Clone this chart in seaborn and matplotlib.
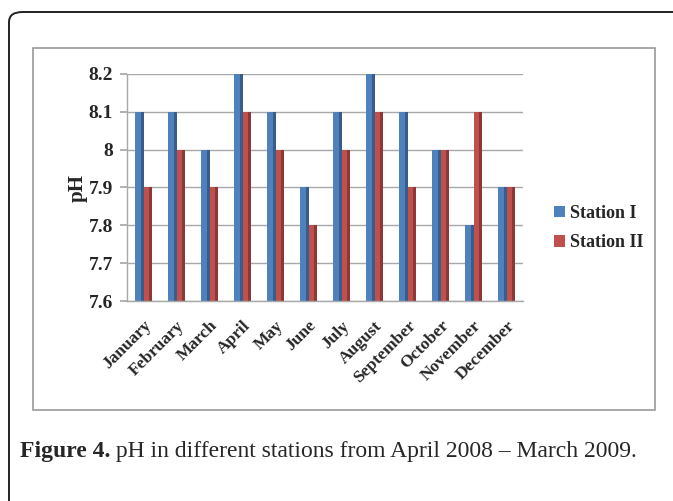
import pandas as pd
import numpy as np
import matplotlib
matplotlib.use("Agg")
import matplotlib.pyplot as plt
import seaborn as sns
from matplotlib.patches import FancyBboxPatch, Rectangle
from matplotlib.ticker import FuncFormatter

# ── DATA ──────────────────────────────────────────────────
months = ["January", "February", "March", "April", "May", "June",
          "July", "August", "September", "October", "November", "December"]
station_1 = [8.1, 8.1, 8.0, 8.2, 8.1, 7.9, 8.1, 8.2, 8.1, 8.0, 7.8, 7.9]
station_2 = [7.9, 8.0, 7.9, 8.1, 8.0, 7.8, 8.0, 8.1, 7.9, 8.0, 8.1, 7.9]
stations = ["Station I", "Station II"]
colors = ["#4F81BD", "#C0504D"]
side_colors = ["#385D8A", "#8C3836"]
caption_bold = "Figure 4."
caption_rest = " pH in different stations from April 2008 \u2013 March 2009."

df = pd.DataFrame({
    "month": months * 2,
    "ph": station_1 + station_2,
    "station": [stations[0]] * len(months) + [stations[1]] * len(months),
})

# ── STYLE ─────────────────────────────────────────────────
sns.set_theme(style="white")
plt.rcParams["font.family"] = ["Liberation Serif", "DejaVu Serif"]

W, H = 673, 501
fig = plt.figure(figsize=(W / 100, H / 100), dpi=100)
fig.patch.set_facecolor("white")

# outer frame (rounded corner, runs off the right and bottom edges)
fig.patches.append(FancyBboxPatch((9 / W, -0.05), 1.2, 1 - 12 / H + 0.05,
                                  boxstyle="round,pad=0,rounding_size=0.02",
                                  transform=fig.transFigure, fill=False,
                                  edgecolor="#222222", linewidth=1.4))
# inner chart box
fig.patches.append(Rectangle((33 / W, 1 - 410 / H), (655 - 33) / W, (410 - 48) / H,
                             transform=fig.transFigure, fill=False,
                             edgecolor="#9a9a9a", linewidth=1.2))

ax = fig.add_axes([127 / W, 1 - 301 / H, (523 - 127) / W, (301 - 74) / H])
ax.set_facecolor("none")

sns.barplot(data=df, x="month", y="ph", hue="station", palette=colors,
            width=0.5, gap=0, ax=ax, saturation=1, edgecolor="none")

# fake 3D side faces, taken from the bar geometry
for container, sc in zip(ax.containers, side_colors):
    for p in container.patches:
        x0, y0 = p.get_x(), p.get_y()
        w, h = p.get_width(), p.get_height()
        ax.add_patch(Rectangle((x0 + w * 0.72, y0), w * 0.28, h,
                               facecolor=sc, edgecolor="none", zorder=p.get_zorder() + 0.1))

ax.set_ylim(7.6, 8.2)
ax.set_yticks(np.round(np.arange(7.6, 8.21, 0.1), 1))
ax.yaxis.set_major_formatter(FuncFormatter(lambda v, _: f"{v:g}"))
ax.grid(axis="y", color="#a8a8a8", linewidth=1)
ax.set_axisbelow(True)
for s in ["top", "right"]:
    ax.spines[s].set_visible(False)
for s in ["left", "bottom"]:
    ax.spines[s].set_color("#a8a8a8")
    ax.spines[s].set_linewidth(1)
ax.tick_params(axis="y", left=True, length=5, color="#a8a8a8", pad=5,
               labelsize=14)
ax.tick_params(axis="x", bottom=False, pad=6, labelsize=12.5)
for lab in ax.get_yticklabels():
    lab.set_fontweight("bold")
for lab in ax.get_xticklabels():
    lab.set_fontweight("bold")
    lab.set_rotation(45)
    lab.set_ha("right")
    lab.set_rotation_mode("anchor")

ax.set_xlabel("")
ax.set_ylabel("pH", fontsize=15, fontweight="bold", labelpad=1)

leg = ax.legend(loc="center left", bbox_to_anchor=(538 / W, 1 - 228 / H),
                bbox_transform=fig.transFigure, frameon=False,
                handlelength=0.6, handleheight=0.6, handletextpad=0.3,
                labelspacing=0.7, prop={"weight": "bold", "size": 13})

# caption
t1 = fig.text(20 / W, 1 - 452 / H, caption_bold, fontsize=17, fontweight="bold",
              va="center", ha="left")
fig.canvas.draw()
bb = t1.get_window_extent(fig.canvas.get_renderer())
fig.text(bb.x1 / W, 1 - 452 / H, caption_rest, fontsize=17,
         va="center", ha="left")

plt.savefig("out.png", dpi=100)
